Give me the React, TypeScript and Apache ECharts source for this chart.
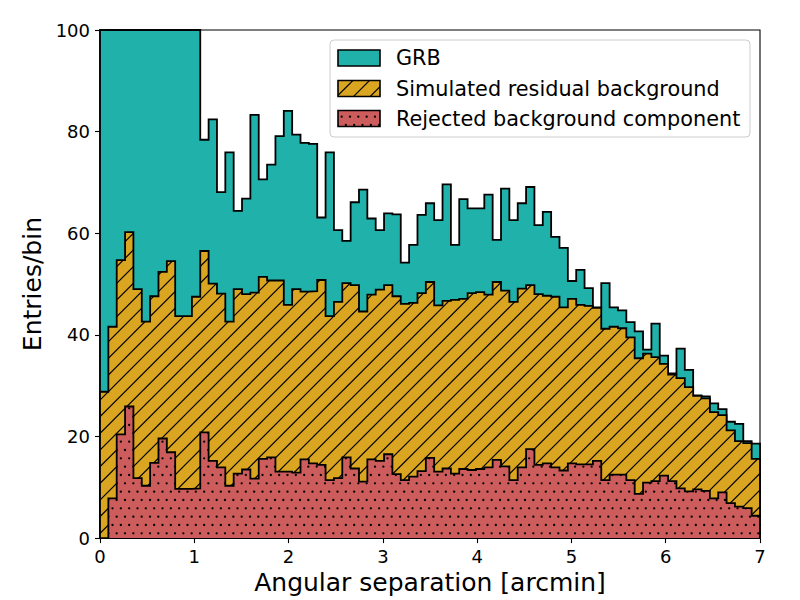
import React, { useEffect, useRef } from "react";
import * as echarts from "echarts";

const N_BINS = 79;
const X_MAX = 7;

const X_TICKS = [0, 1, 2, 3, 4, 5, 6, 7];

const grbCounts = [
  100, 100, 100, 100, 100, 100, 100, 100, 100, 100, 100, 100,
  78.4, 82.4, 68.1, 75.9, 64.4, 66.8, 83.3, 70.6, 73.5, 79.1,
  84.1, 79.4, 77.8, 77.6, 63.1, 75.9, 60.6, 58.5, 66.1, 68.6,
  62.9, 60.6, 63.9, 63.7, 54.2, 57.7, 63.6, 65.9, 62.6, 69.6,
  57.7, 66.7, 64.9, 64.9, 67.6, 58.7, 68.8, 62.6, 65.9, 69.1,
  61.6, 64.2, 59.3, 57.1, 50.6, 52.8, 49.2, 45.4, 50.2, 45.4,
  44.8, 42.5, 40.7, 37.1, 42.2, 35.9, 32.4, 37.3, 33.1, 28.1,
  27.9, 26.5, 25.4, 22.9, 22.5, 19.1, 18.6,
];

const residualCounts = [
  28.8, 41.6, 54.7, 60.2, 49.0, 42.6, 47.6, 52.4, 54.5, 43.7,
  43.7, 47.5, 56.5, 50.1, 48.1, 42.6, 49.0, 48.0, 48.3, 51.4,
  50.7, 50.7, 45.9, 49.0, 48.5, 48.6, 50.8, 43.7, 46.5, 50.2,
  49.8, 44.6, 47.9, 48.9, 49.8, 47.6, 46.1, 46.3, 48.2, 50.4,
  45.8, 46.7, 46.9, 47.1, 48.2, 48.4, 47.9, 50.4, 48.7, 46.5,
  49.1, 49.8, 48.0, 47.7, 47.5, 45.4, 47.1, 45.9, 45.7, 45.3,
  41.2, 41.6, 41.3, 39.5, 35.4, 36.3, 35.6, 34.3, 32.2, 31.5,
  29.7, 28.0, 27.5, 24.8, 24.2, 21.2, 19.1, 18.7, 15.6,
];

const rejectedCounts = [
  0, 7.8, 20.4, 25.9, 11.8, 10.3, 14.8, 19.6, 16.9, 9.7,
  9.7, 9.8, 20.8, 15.2, 13.9, 10.3, 12.7, 13.5, 11.7, 15.6,
  15.9, 13.1, 13.1, 12.9, 15.5, 14.7, 14.4, 11.4, 11.8, 15.9,
  13.7, 11.1, 15.5, 15.2, 16.5, 12.6, 11.4, 12.1, 13.2, 15.8,
  13.1, 13.7, 12.7, 13.6, 13.4, 13.6, 13.9, 15.4, 14.1, 11.4,
  13.9, 17.5, 14.4, 14.7, 13.9, 13.3, 14.7, 14.5, 14.5, 15.2,
  11.4, 12.5, 12.5, 11.4, 8.7, 10.9, 11.2, 12.3, 11.2, 9.8,
  9.2, 9.6, 9.3, 7.8, 9.0, 6.9, 6.2, 5.9, 4.4,
];

const SERIES_NAMES = [
  "GRB",
  "Simulated residual background",
  "Rejected background component",
];

const TEAL = "#20B2AA";
const GOLD = "#DAA520";
const RED = "#CD5C5C";
const FONT = "DejaVu Sans";

function stepData(counts: number[]): number[][] {
  const pts: number[][] = [[0, 0]];
  for (let k = 0; k < N_BINS; k++) {
    pts.push([(k * X_MAX) / N_BINS, counts[k]]);
  }
  pts.push([X_MAX, counts[N_BINS - 1]]);
  pts.push([X_MAX, 0]);
  return pts;
}

function makeHatch(bg: string): string {
  const c = document.createElement("canvas");
  c.width = 50;
  c.height = 50;
  const ctx = c.getContext("2d")!;
  ctx.fillStyle = bg;
  ctx.fillRect(0, 0, 50, 50);
  ctx.strokeStyle = "#000";
  ctx.lineWidth = 1.2;
  for (let k = -3; k <= 7; k++) {
    const cc = (k * 50) / 3;
    ctx.beginPath();
    ctx.moveTo(cc + 10, -10);
    ctx.lineTo(cc - 60, 60);
    ctx.stroke();
  }
  return c.toDataURL();
}

function makeDots(bg: string): string {
  const c = document.createElement("canvas");
  c.width = 25;
  c.height = 50;
  const ctx = c.getContext("2d")!;
  ctx.fillStyle = bg;
  ctx.fillRect(0, 0, 25, 50);
  ctx.fillStyle = "#000";
  for (let j = 0; j <= 6; j++) {
    const y = (j * 50) / 6;
    const off = j % 2 ? 25 / 6 : 0;
    for (let i = -1; i <= 3; i++) {
      const x = (i * 25) / 3 + off;
      ctx.beginPath();
      ctx.arc(x, y, 1.15, 0, Math.PI * 2);
      ctx.fill();
    }
  }
  return c.toDataURL();
}

export default function App() {
  const ref = useRef<HTMLDivElement>(null);

  useEffect(() => {
    if (!ref.current) return;
    const chart = echarts.init(ref.current, undefined, { renderer: "svg" });

    const hatch: any = {
      image: makeHatch(GOLD),
      repeat: "repeat",
      imageWidth: 50,
      imageHeight: 50,
    };
    const dots: any = {
      image: makeDots(RED),
      repeat: "repeat",
      imageWidth: 25,
      imageHeight: 50,
    };
    const fills: any[] = [TEAL, hatch, dots];
    const counts = [grbCounts, residualCounts, rejectedCounts];

    const series: any[] = counts.map((c, i) => ({
      name: SERIES_NAMES[i],
      type: "line",
      step: "end",
      data: stepData(c),
      symbol: "none",
      showSymbol: false,
      silent: true,
      clip: true,
      lineStyle: { color: "#000", width: 1.8, join: "miter" },
      areaStyle: { color: fills[i], opacity: 1 },
      z: 2 + i,
    }));

    const legendRows = [58, 88.5, 118.5];
    const legendEls: any[] = [
      {
        type: "rect",
        shape: { x: 330, y: 40, width: 420, height: 97, r: 4 },
        style: { fill: "rgba(255,255,255,0.8)", stroke: "#cccccc", lineWidth: 1 },
      },
    ];
    SERIES_NAMES.forEach((name, i) => {
      legendEls.push({
        type: "rect",
        shape: { x: 338, y: legendRows[i] - 8, width: 42, height: 16 },
        style: { fill: fills[i], stroke: "#000", lineWidth: 1.6 },
      });
      legendEls.push({
        type: "text",
        x: 396,
        y: legendRows[i],
        style: {
          text: name,
          fontSize: 20.8,
          fontFamily: FONT,
          fill: "#000",
          align: "left",
          verticalAlign: "middle",
        },
      });
    });

    const option: any = {
      animation: false,
      grid: {
        left: 100,
        right: 40,
        top: 30,
        bottom: 60,
        show: true,
        borderColor: "#000",
        borderWidth: 1.1,
        backgroundColor: "transparent",
      },
      xAxis: {
        type: "value",
        min: X_TICKS[0],
        max: X_TICKS[X_TICKS.length - 1],
        interval: 1,
        name: "Angular separation [arcmin]",
        nameLocation: "middle",
        nameGap: 30,
        nameTextStyle: { fontSize: 25, fontFamily: FONT, color: "#000" },
        axisLine: { show: true, onZero: false, lineStyle: { color: "#000", width: 1.1 } },
        axisTick: { show: true, inside: false, length: 5, lineStyle: { color: "#000", width: 1.1 } },
        axisLabel: { fontSize: 18, fontFamily: FONT, color: "#000", margin: 9 },
        splitLine: { show: false },
      },
      yAxis: {
        type: "value",
        min: 0,
        max: 100,
        interval: 20,
        name: "Entries/bin",
        nameLocation: "middle",
        nameGap: 48,
        nameTextStyle: { fontSize: 25, fontFamily: FONT, color: "#000" },
        axisLine: { show: true, onZero: false, lineStyle: { color: "#000", width: 1.1 } },
        axisTick: { show: true, inside: false, length: 5, lineStyle: { color: "#000", width: 1.1 } },
        axisLabel: { fontSize: 18, fontFamily: FONT, color: "#000", margin: 10 },
        splitLine: { show: false },
      },
      series,
      graphic: [{ type: "group", z: 100, children: legendEls }],
    };

    chart.setOption(option);
    return () => chart.dispose();
  }, []);

  return (
    <div
      ref={ref}
      style={{ position: "fixed", left: 0, top: 0, width: 800, height: 600, background: "#fff" }}
    />
  );
}
